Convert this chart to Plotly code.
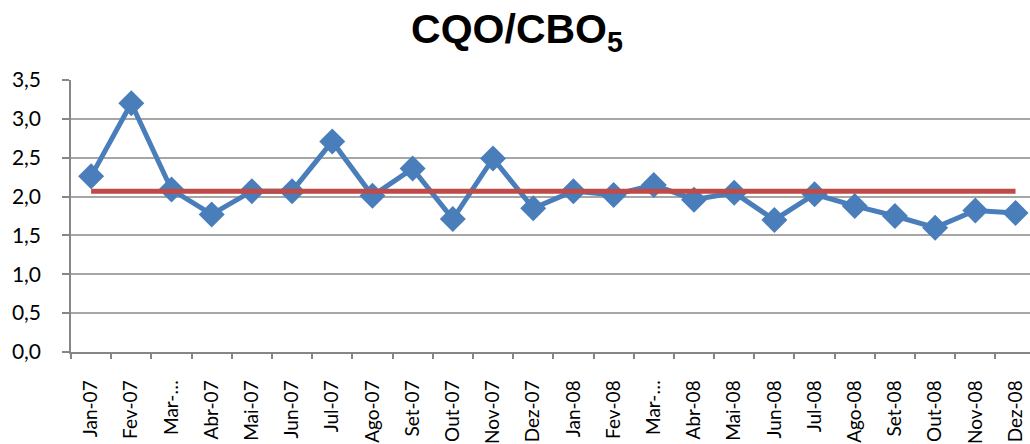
import plotly.graph_objects as go

months = ["Jan-07", "Fev-07", "Mar-07", "Abr-07", "Mai-07", "Jun-07", "Jul-07", "Ago-07",
          "Set-07", "Out-07", "Nov-07", "Dez-07", "Jan-08", "Fev-08", "Mar-08", "Abr-08",
          "Mai-08", "Jun-08", "Jul-08", "Ago-08", "Set-08", "Out-08", "Nov-08", "Dez-08"]
tick_labels = ["Jan-07", "Fev-07", "Mar-…", "Abr-07", "Mai-07", "Jun-07", "Jul-07", "Ago-07",
               "Set-07", "Out-07", "Nov-07", "Dez-07", "Jan-08", "Fev-08", "Mar-…", "Abr-08",
               "Mai-08", "Jun-08", "Jul-08", "Ago-08", "Set-08", "Out-08", "Nov-08", "Dez-08"]
ratio = [2.26, 3.20, 2.09, 1.77, 2.07, 2.07, 2.71, 2.01, 2.36, 1.71, 2.49, 1.85,
         2.07, 2.02, 2.15, 1.96, 2.05, 1.70, 2.03, 1.88, 1.75, 1.60, 1.82, 1.79]
mean_line = [2.07, 2.07, 2.07, 2.07, 2.07, 2.07, 2.07, 2.07, 2.07, 2.07, 2.07, 2.07,
             2.07, 2.07, 2.07, 2.07, 2.07, 2.07, 2.07, 2.07, 2.07, 2.07, 2.07, 2.07]
y_ticks = [0, 0.5, 1.0, 1.5, 2.0, 2.5, 3.0, 3.5]
y_tick_text = ["0,0", "0,5", "1,0", "1,5", "2,0", "2,5", "3,0", "3,5"]

fig = go.Figure()
fig.add_trace(go.Scatter(
    x=months, y=ratio, mode="lines+markers",
    line=dict(color="#4A7EBB", width=5),
    marker=dict(symbol="diamond", size=20, color="#4A7EBB"),
    showlegend=False, cliponaxis=False,
))
fig.add_trace(go.Scatter(
    x=months, y=mean_line, mode="lines",
    line=dict(color="#BE4B48", width=5),
    showlegend=False, cliponaxis=False,
))

fig.update_layout(
    width=1030, height=444,
    margin=dict(l=71, r=0, t=80, b=92, autoexpand=False),
    paper_bgcolor="white", plot_bgcolor="white",
    title=dict(text="<b>CQO/CBO<sub>5</sub></b>", x=0.502, xanchor="center",
               y=0.935, yanchor="middle",
               font=dict(family="Liberation Sans", size=41, color="black")),
    font=dict(family="Lato, Noto Sans, sans-serif", color="black"),
)
fig.update_xaxes(
    type="category", categoryorder="array", categoryarray=months,
    tickvals=months, ticktext=tick_labels,
    range=[-0.5, 23.36], tickangle=-90, automargin=False,
    tickfont=dict(size=19, family="Lato, Noto Sans, sans-serif"),
    showline=True, linecolor="#868686", linewidth=1.5,
    ticks="outside", ticklen=5, tickcolor="#868686", tickwidth=1.5,
    tickson="boundaries", showgrid=False, ticklabelstandoff=19,
)
fig.update_yaxes(
    range=[0, 3.5], tickvals=y_ticks, ticktext=y_tick_text, automargin=False,
    tickfont=dict(size=21, family="Lato, Noto Sans, sans-serif"),
    showline=True, linecolor="#868686", linewidth=1.5,
    ticks="outside", ticklen=7, tickcolor="#868686", tickwidth=1.5,
    showgrid=True, gridcolor="#A6A6A6", gridwidth=1.5,
    zeroline=False, ticklabelstandoff=17,
)

fig.write_html("out.html")
